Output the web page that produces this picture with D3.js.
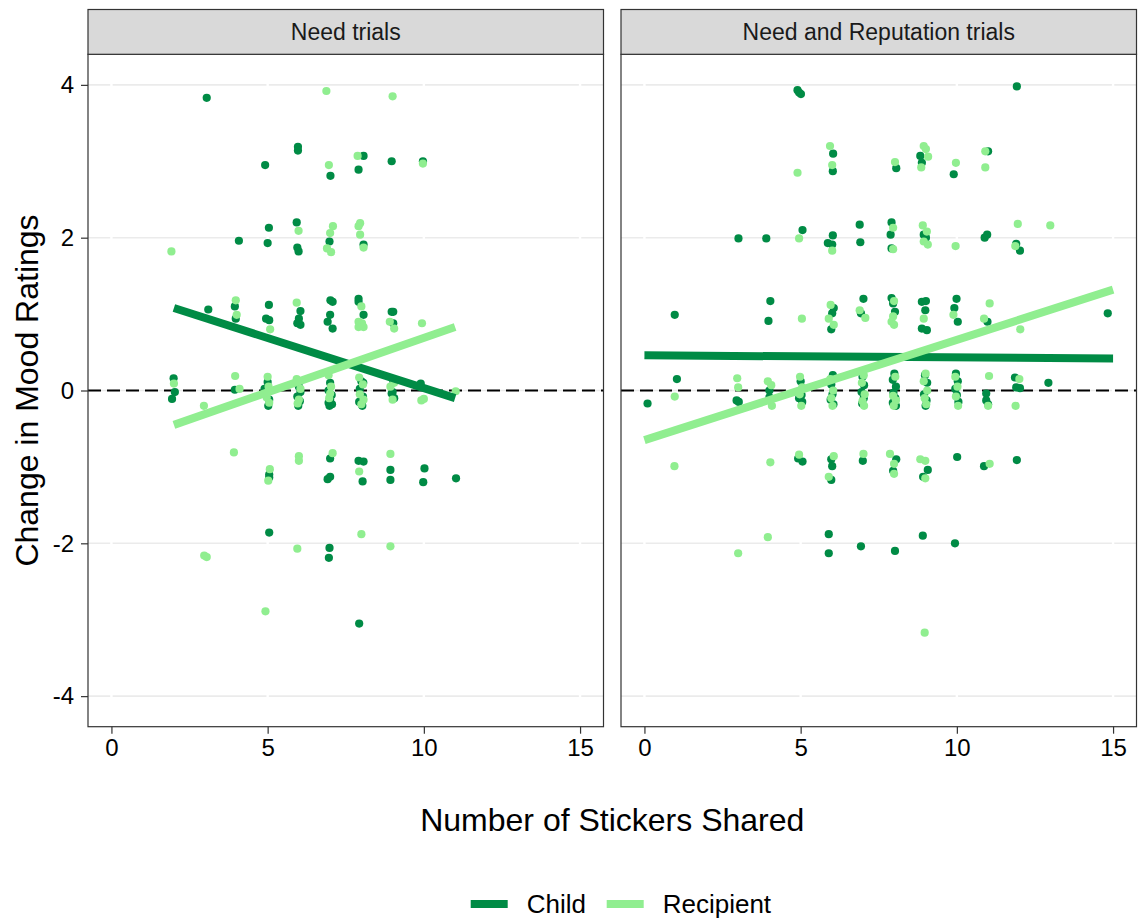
<!DOCTYPE html>
<html>
<head>
<meta charset="utf-8">
<script src="https://cdn.jsdelivr.net/npm/d3@7"></script>
<style>
    body { margin: 0; background: #fff; }
    text { font-family: "Liberation Sans", Arial, sans-serif; }
</style>
</head>
<body>
<div id="chart"></div>
<script>
// ---- data ----
var panels = ["Need trials", "Need and Reputation trials"];
var groups = ["Child", "Recipient"];
var xTicks = [0, 5, 10, 15];
var yTicks = [-4, -2, 0, 2, 4];

// [stickers shared (jittered), change in mood (jittered)]
var needChild = [
    [3.05, 3.83], [5.97, 3.19], [5.97, 3.14], [4.92, 2.95], [7.01, 2.81],
    [4.08, 1.96], [5.04, 2.13], [5.0, 1.93], [5.93, 2.2], [5.95, 1.87], [5.99, 1.82], [6.98, 1.95],
    [3.1, 1.06], [3.95, 1.1], [3.98, 0.94], [5.04, 1.12], [4.95, 0.94], [5.05, 0.92],
    [6.05, 1.04], [6.0, 0.94], [5.95, 0.88], [6.05, 0.86], [7.01, 1.18], [7.08, 1.16],
    [7.0, 0.99], [6.92, 0.9], [7.08, 0.81],
    [8.07, 3.07], [7.91, 2.89], [8.97, 3.0], [9.97, 3.0], [8.07, 1.91],
    [7.91, 1.2], [7.91, 1.16], [8.07, 0.99], [8.97, 1.03], [9.02, 1.03], [9.02, 0.88],
    [1.99, 0.16], [2.03, -0.02], [1.94, -0.11], [3.95, 0.01],
    [5.0, 0.11], [4.9, 0.02], [5.02, -0.2], [5.05, -0.12],
    [6.0, 0.05], [6.05, -0.02], [5.95, -0.08], [6.03, -0.14], [5.98, -0.2],
    [7.0, 0.1], [6.95, 0.0], [7.05, -0.06], [7.0, -0.12], [6.95, -0.16], [7.06, -0.18], [6.98, -0.2],
    [8.0, 0.12], [7.95, 0.02], [8.05, -0.08], [7.93, -0.15], [8.03, -0.2], [8.06, 0.1],
    [9.02, 0.13], [8.97, -0.04], [9.05, -0.1], [9.0, -0.02], [9.9, 0.09],
    [7.0, -0.89], [6.92, -1.16], [7.0, -1.13], [5.05, -1.1], [5.05, -1.14], [5.05, -1.86],
    [6.98, -2.06], [6.96, -2.19], [7.91, -0.92], [8.07, -0.93], [8.04, -1.19],
    [8.93, -1.04], [8.93, -1.17], [10.02, -1.02], [9.98, -1.2], [11.03, -1.15], [7.93, -3.05]
];
var needRecipient = [
    [6.88, 3.92], [6.96, 2.95], [1.92, 1.82], [5.99, 2.09], [7.09, 2.15], [7.0, 2.06],
    [6.9, 1.86], [7.03, 1.81], [3.98, 1.18], [4.01, 0.99], [5.08, 0.8], [5.93, 1.15],
    [9.0, 3.85], [7.88, 3.07], [9.97, 2.97], [7.96, 2.19], [7.91, 2.15], [7.96, 2.04], [8.07, 1.87],
    [8.0, 1.1], [7.91, 0.9], [8.02, 0.88], [7.91, 0.83], [8.07, 0.83], [8.91, 0.9], [9.05, 0.81], [9.94, 0.88],
    [2.0, 0.09], [2.96, -0.2], [3.96, 0.19], [4.1, 0.02],
    [5.0, 0.18], [5.03, 0.05], [4.97, -0.09], [5.05, -0.16],
    [5.93, 0.15], [6.0, -0.12], [6.05, 0.02], [5.96, -0.17],
    [6.95, 0.2], [7.03, 0.05], [7.0, -0.04], [6.97, -0.1],
    [7.93, 0.17], [8.05, 0.08], [7.95, -0.05], [8.0, -0.18], [8.07, -0.12],
    [8.93, 0.05], [9.0, -0.12], [9.05, 0.1], [9.92, -0.13], [10.0, -0.11], [11.02, -0.01],
    [3.92, -0.81], [5.07, -1.03], [5.02, -1.18], [6.0, -0.86], [6.0, -0.92], [7.08, -0.82],
    [2.97, -2.16], [3.05, -2.18], [5.95, -2.07], [4.93, -2.89], [7.93, -1.06],
    [8.93, -0.83], [8.0, -1.88], [8.93, -2.04]
];
var repChild = [
    [4.9, 3.93], [5.01, 3.88], [4.95, 3.9], [6.04, 3.1], [6.03, 2.87], [0.97, 0.99],
    [3.01, 1.99], [3.9, 1.99], [5.06, 2.1], [6.03, 2.03], [5.87, 1.93], [6.01, 1.91],
    [6.89, 2.17], [6.91, 1.94], [4.03, 1.17], [3.97, 0.91], [6.06, 1.08], [6.01, 1.01],
    [5.98, 0.8], [7.01, 1.2], [6.93, 1.01],
    [11.92, 3.98], [8.06, 2.91], [8.83, 3.07], [8.88, 2.98], [9.9, 2.83], [11.0, 3.13],
    [7.91, 2.2], [7.88, 2.04], [7.91, 1.86], [8.94, 2.04], [9.01, 2.0], [10.89, 2.0], [10.97, 2.04],
    [11.9, 1.92], [12.02, 1.83], [7.91, 1.21], [7.96, 1.14], [8.02, 1.03],
    [8.88, 1.16], [9.01, 1.17], [8.99, 1.05], [8.88, 0.81], [9.04, 0.79],
    [9.99, 1.2], [9.92, 1.08], [10.03, 0.9], [10.98, 0.9], [14.83, 1.01],
    [0.1, -0.17], [1.04, 0.15], [2.95, -0.13], [3.02, -0.15], [4.0, 0.0], [4.0, -0.09],
    [5.0, 0.12], [4.95, -0.1], [5.05, -0.15], [5.03, -0.06],
    [6.03, 0.2], [5.98, 0.08], [6.02, -0.05], [5.96, -0.12], [6.05, -0.18],
    [6.98, 0.18], [7.03, 0.07], [6.95, -0.02], [7.02, -0.1], [6.97, -0.17],
    [8.0, 0.22], [7.95, 0.14], [8.05, 0.05], [7.97, -0.03], [8.03, -0.1], [7.95, -0.16], [8.05, -0.2],
    [8.98, 0.2], [9.05, 0.1], [8.95, -0.05], [9.03, -0.13], [9.0, -0.2],
    [9.97, 0.22], [10.03, 0.12], [9.95, 0.02], [10.0, -0.06], [10.05, -0.15],
    [10.94, -0.04], [10.94, -0.13], [11.0, -0.18], [11.86, 0.17], [11.9, 0.04], [12.02, 0.03], [12.93, 0.1],
    [4.92, -0.89], [5.06, -0.93], [5.98, -0.9], [6.01, -0.99], [5.98, -1.17], [6.99, -0.92],
    [5.9, -1.88], [5.9, -2.13], [6.93, -2.04], [8.06, -0.9], [7.96, -1.05], [9.07, -1.04],
    [8.92, -1.13], [10.01, -0.87], [10.87, -0.99], [11.92, -0.91], [8.91, -1.9], [8.02, -2.1], [9.94, -2.0]
];
var repRecipient = [
    [5.94, 3.2], [6.01, 2.95], [4.9, 2.85], [4.95, 1.99], [6.01, 1.83], [5.04, 0.94],
    [5.96, 1.12], [5.9, 0.94], [6.06, 0.86], [6.89, 1.05], [7.07, 0.95],
    [8.02, 2.99], [8.94, 3.2], [9.01, 3.16], [9.08, 3.06], [8.86, 2.92], [9.97, 2.98],
    [10.91, 3.13], [10.91, 2.92], [7.96, 2.13], [7.96, 1.85], [8.91, 2.16], [9.04, 2.08],
    [8.94, 1.95], [9.07, 1.91], [9.96, 1.89], [11.95, 2.18], [11.87, 1.89], [12.99, 2.16],
    [7.99, 1.17], [7.96, 0.97], [7.91, 0.9], [7.99, 0.86], [8.94, 0.94], [9.89, 0.99],
    [11.05, 1.14], [10.87, 0.94], [12.03, 0.8],
    [0.97, -0.08], [2.97, 0.16], [3.0, 0.04], [3.95, 0.12], [4.06, 0.07], [4.08, -0.2],
    [4.98, 0.18], [5.05, 0.04], [4.97, -0.05], [5.02, -0.2],
    [5.95, 0.15], [6.04, 0.0], [5.98, -0.1], [6.02, -0.2],
    [7.02, 0.2], [6.96, 0.1], [7.05, -0.05], [6.98, -0.14], [7.03, -0.2],
    [8.03, 0.18], [7.96, -0.07], [8.05, -0.13], [7.98, -0.2],
    [9.0, 0.22], [8.94, 0.12], [9.05, 0.0], [8.97, -0.1], [9.02, -0.18],
    [9.95, 0.18], [10.02, 0.05], [9.97, -0.08], [10.04, -0.2],
    [11.03, 0.19], [11.0, -0.2], [12.0, 0.15], [11.88, -0.2],
    [0.96, -0.99], [4.03, -0.94], [4.95, -0.84], [6.06, -0.86], [5.9, -1.13], [7.01, -0.83],
    [3.95, -1.92], [3.0, -2.13], [7.86, -0.83], [7.99, -0.96], [7.99, -1.09], [8.83, -0.9],
    [8.99, -0.92], [8.99, -1.15], [11.05, -0.96], [8.97, -3.17]
];

// fitted lines (lm), endpoints
var needChildFit = [[2, 1.08], [11, -0.1]];
var needRecipientFit = [[2, -0.45], [11, 0.83]];
var repChildFit = [[0, 0.46], [15, 0.42]];
var repRecipientFit = [[0, -0.65], [15, 1.32]];

// ---- chart ----
var width = 1145, height = 919;
var color = d3.scaleOrdinal().domain(groups).range(["#008B45", "#90EE90"]);
var fmt = function (d) { return String(d); };

var svg = d3.select("#chart").append("svg")
    .attr("width", width)
    .attr("height", height);

var y = d3.scaleLinear().domain([-4.4, 4.4]).range([726.7, 54.3]);
var panelTop = 54.3, panelBottom = 726.7;
var stripTop = 9.5;

var panelDefs = [
    { title: panels[0], left: 88, right: 603.5, child: needChild, recip: needRecipient, childFit: needChildFit, recipFit: needRecipientFit },
    { title: panels[1], left: 621, right: 1136.5, child: repChild, recip: repRecipient, childFit: repChildFit, recipFit: repRecipientFit }
];

var line = d3.line();

panelDefs.forEach(function (p, i) {
    var x = d3.scaleLinear().domain([-0.75, 15.75]).range([p.left, p.right]);
    var g = svg.append("g");

    // grid
    g.selectAll(".hgrid").data(yTicks).enter().append("line")
        .attr("x1", p.left).attr("x2", p.right)
        .attr("y1", d => y(d)).attr("y2", d => y(d))
        .attr("stroke", "#EBEBEB").attr("stroke-width", 1.6);
    g.selectAll(".vgrid").data(xTicks).enter().append("line")
        .attr("x1", d => x(d)).attr("x2", d => x(d))
        .attr("y1", panelTop).attr("y2", panelBottom)
        .attr("stroke", "#fff").attr("stroke-width", 2.4);

    // reference line at zero
    g.append("line")
        .attr("x1", p.left).attr("x2", p.right)
        .attr("y1", y(0)).attr("y2", y(0))
        .attr("stroke", "#000").attr("stroke-width", 2)
        .attr("stroke-dasharray", "13,6");

    // points
    var pts = p.child.map(d => ({ x: d[0], y: d[1], g: "Child" }))
        .concat(p.recip.map(d => ({ x: d[0], y: d[1], g: "Recipient" })));
    g.selectAll(".pt").data(pts).enter().append("circle")
        .attr("cx", d => x(d.x))
        .attr("cy", d => y(d.y))
        .attr("r", 4.1)
        .attr("fill", d => color(d.g));

    // fitted lines
    [[p.childFit, "Child"], [p.recipFit, "Recipient"]].forEach(function (f) {
        g.append("path")
            .attr("d", line(f[0].map(d => [x(d[0]), y(d[1])])))
            .attr("fill", "none")
            .attr("stroke", color(f[1]))
            .attr("stroke-width", 8);
    });

    // border
    g.append("rect")
        .attr("x", p.left).attr("y", panelTop)
        .attr("width", p.right - p.left).attr("height", panelBottom - panelTop)
        .attr("fill", "none").attr("stroke", "#333").attr("stroke-width", 1.2);

    // strip
    g.append("rect")
        .attr("x", p.left).attr("y", stripTop)
        .attr("width", p.right - p.left).attr("height", panelTop - stripTop)
        .attr("fill", "#D9D9D9").attr("stroke", "#333").attr("stroke-width", 1.2);
    g.append("text")
        .attr("x", (p.left + p.right) / 2)
        .attr("y", (stripTop + panelTop) / 2)
        .attr("dy", "0.35em")
        .attr("text-anchor", "middle")
        .attr("font-size", "23px")
        .attr("fill", "#1A1A1A")
        .text(p.title);

    // x axis
    var xAxis = g.append("g")
        .attr("transform", "translate(0," + panelBottom + ")")
        .call(d3.axisBottom(x).tickValues(xTicks).tickSize(7).tickPadding(5).tickFormat(fmt));
    xAxis.select(".domain").remove();
    xAxis.selectAll("line").attr("stroke", "#333").attr("stroke-width", 1.2);
    xAxis.selectAll("text").attr("font-size", "24px").attr("fill", "#000")
        .style("font-family", "'Liberation Sans', Arial, sans-serif");

    if (i === 0) {
        var yAxis = g.append("g")
            .attr("transform", "translate(" + p.left + ",0)")
            .call(d3.axisLeft(y).tickValues(yTicks).tickSize(7).tickPadding(7).tickFormat(fmt));
        yAxis.select(".domain").remove();
        yAxis.selectAll("line").attr("stroke", "#333").attr("stroke-width", 1.2);
        yAxis.selectAll("text").attr("font-size", "24px").attr("fill", "#000")
            .style("font-family", "'Liberation Sans', Arial, sans-serif");
    }
});

// axis titles
svg.append("text")
    .attr("x", (88 + 1136.5) / 2)
    .attr("y", 820)
    .attr("dy", "0.35em")
    .attr("text-anchor", "middle")
    .attr("font-size", "32px")
    .attr("fill", "#000")
    .text("Number of Stickers Shared");

svg.append("text")
    .attr("transform", "translate(27," + y(0) + ") rotate(-90)")
    .attr("dy", "0.35em")
    .attr("text-anchor", "middle")
    .attr("font-size", "32px")
    .attr("fill", "#000")
    .text("Change in Mood Ratings");

// legend
var legend = svg.append("g").attr("transform", "translate(0,904)");
var legendPos = [470.7, 606.7];
groups.forEach(function (grp, i) {
    legend.append("line")
        .attr("x1", legendPos[i]).attr("x2", legendPos[i] + 37)
        .attr("y1", 0).attr("y2", 0)
        .attr("stroke", color(grp)).attr("stroke-width", 8);
    legend.append("text")
        .attr("x", legendPos[i] + 56)
        .attr("y", 0)
        .attr("dy", "0.35em")
        .attr("font-size", "26px")
        .attr("fill", "#000")
        .text(grp);
});
</script>
</body>
</html>
